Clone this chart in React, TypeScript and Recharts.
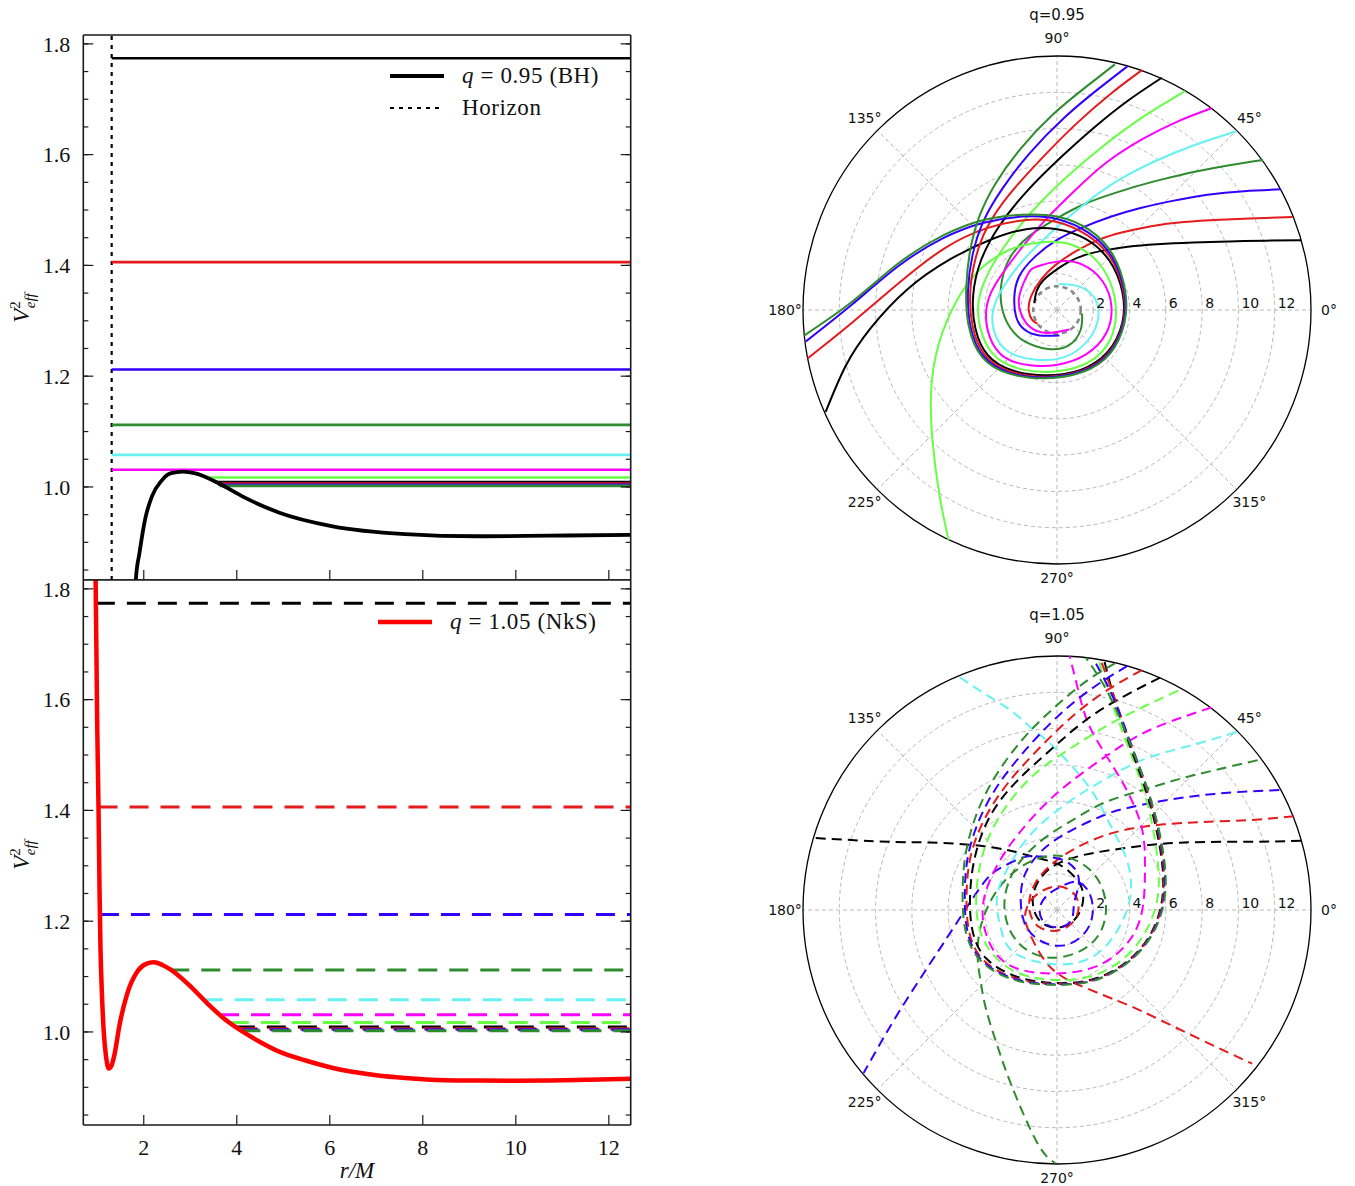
import React from 'react';
import {
  LineChart, Line, XAxis, YAxis, ReferenceLine, Legend,
  RadarChart, PolarGrid, PolarAngleAxis,
} from 'recharts';

const SERIF = '"Liberation Serif", "DejaVu Serif", serif';
const SANS = '"DejaVu Sans", sans-serif';

// squared energies of the test particles, same set for both spacetimes
const levels = [1.774, 1.406, 1.212, 1.112, 1.058, 1.031, 1.017, 1.009, 1.006, 1.004, 1.002];
const levelColors = ['#000000', '#e41a1c', '#3300ff', '#2e8b2e', '#66f2f2', '#ff00ff', '#66ff44', '#000000', '#e41a1c', '#3300ff', '#2e8b2e'];

// turning points where each level line starts
const horizonR = 1.31;
const bhStart = [1.31, 1.31, 1.31, 1.31, 1.31, 1.31, 3.3, 3.54, 3.58, 3.6, 3.63];
const nksStart = [0.97, 1.027, 1.057, 2.57, 3.29, 3.64, 3.85, 3.98, 4.03, 4.06, 4.1];

// effective potential, q = 0.95 (black hole)
const bhPotR = [1.8, 1.83, 1.91, 2.03, 2.18, 2.38, 2.57, 2.84, 3.11, 3.58, 4.12, 4.9, 6.06, 7.62, 9.17, 10.72, 12.47];
const bhPotV = [0.78, 0.833, 0.882, 0.942, 0.984, 1.011, 1.0244, 1.0275, 1.0244, 1.008, 0.983, 0.954, 0.929, 0.915, 0.911, 0.912, 0.9136];

// effective potential, q = 1.05 (naked singularity)
const nksPotR = [0.955, 0.967, 1.0, 1.027, 1.05, 1.07, 1.1, 1.14, 1.19, 1.25, 1.3, 1.37, 1.48, 1.64, 1.87, 2.05, 2.22, 2.4, 2.57, 2.96, 3.35, 3.73, 4.12, 4.5, 4.9, 5.5, 6.07, 7.0, 7.62, 8.5, 9.17, 10.0, 10.72, 11.5, 12.47];
const nksPotV = [1.88, 1.8, 1.55, 1.406, 1.25, 1.15, 1.07, 1.0, 0.955, 0.934, 0.938, 0.959, 1.013, 1.068, 1.11, 1.123, 1.126, 1.121, 1.113, 1.086, 1.053, 1.024, 1.001, 0.982, 0.965, 0.948, 0.935, 0.922, 0.917, 0.913, 0.9123, 0.912, 0.9123, 0.9135, 0.9153];

const X_MIN = 0.7;
const X_MAX = 12.47;
const Y_DOMAIN: [number, number] = [0.832, 1.816];
const xMajor = [2, 4, 6, 8, 10, 12];
const xMinor = Array.from({ length: 23 }, (_, i) => 1 + i * 0.5);
const yMajor = [1.0, 1.2, 1.4, 1.6, 1.8];
const yMinor = Array.from({ length: 20 }, (_, i) => +(0.85 + i * 0.05).toFixed(2));

// orbits in the equatorial plane, (x, y) in units of M
type Pt = [number, number];

const bhBlackIn: Pt[] = [[13.45, 3.85], [11.5, 3.82], [9.5, 3.78], [7.5, 3.72], [5.5, 3.62], [3.9, 3.48], [2.7, 3.3], [1.6, 3.05], [0.6, 2.62], [-0.2, 2.1], [-0.79, 1.6], [-1.12, 1.05], [-1.25, 0.39]];
const bhRedIn: Pt[] = [[13.0, 5.12], [11.0, 5.06], [9.0, 4.98], [7.0, 4.85], [5.2, 4.62], [3.62, 4.28], [2.33, 3.88], [1.05, 3.24], [-0.06, 2.5], [-0.88, 1.67], [-1.43, 0.75], [-1.56, 0.02], [-1.38, -0.53], [-1.07, -0.75]];
const bhBlueIn: Pt[] = [[12.35, 6.65], [10.3, 6.55], [8.3, 6.35], [6.3, 6.0], [4.6, 5.62], [3.0, 5.15], [1.42, 4.55], [-0.06, 3.82], [-1.25, 2.9], [-2.08, 1.86], [-2.35, 0.75], [-2.26, -0.35], [-1.8, -1.08], [-0.97, -1.4], [0.13, -1.4]];
const bhGreenIn: Pt[] = [[11.35, 8.27], [9.5, 7.98], [7.6, 7.62], [5.8, 7.2], [4.3, 6.8], [2.9, 6.35], [1.42, 5.8], [-0.1, 5.0], [-1.5, 4.1], [-2.55, 2.95], [-3.05, 1.55], [-3.05, 0.2], [-2.6, -0.95], [-1.75, -1.75], [-0.5, -2.15], [0.65, -1.95], [1.3, -1.1], [1.38, -0.2]];
const bhCyan: Pt[] = [[9.9, 9.85], [7.67, 9.12], [5.4, 8.2], [3.3, 7.1], [1.4, 5.75], [-0.4, 4.2], [-1.9, 2.7], [-3.0, 1.2], [-3.55, -0.2], [-3.3, -1.6], [-2.4, -2.45], [-1.0, -2.75], [0.4, -2.6], [1.6, -1.8], [2.24, -0.6], [2.1, 0.6], [1.2, 1.3], [0.1, 1.43]];
const bhMagenta: Pt[] = [[8.51, 11.12], [6.67, 10.4], [4.68, 9.4], [2.69, 8.1], [1.0, 6.6], [-0.7, 4.9], [-2.2, 3.1], [-3.4, 1.4], [-3.9, 0.0], [-3.7, -1.5], [-2.9, -2.6], [-1.5, -3.05], [0.1, -3.0], [1.6, -2.45], [2.7, -1.3], [3.0, 0.2], [2.5, 1.6], [1.4, 2.5], [0.13, 2.68], [-1.1, 2.4], [-1.62, 1.95], [-2.08, 0.75], [-1.99, -0.17], [-1.53, -0.9], [-0.61, -1.27], [0.68, -1.08]];
const bhLightGreen: Pt[] = [[7.07, 12.06], [4.68, 10.6], [2.5, 9.0], [0.5, 7.3], [-1.4, 5.4], [-2.9, 3.5], [-3.9, 1.8], [-4.35, 0.2], [-4.1, -1.4], [-3.3, -2.65], [-1.8, -3.3], [0, -3.38], [1.8, -2.85], [2.95, -1.6], [3.25, 0.0], [2.9, 1.6], [2.0, 2.9], [0.8, 3.6], [-0.6, 3.75], [-2.4, 3.4], [-4.08, 2.38], [-5.3, 0.9], [-6.3, -1.2], [-6.9, -3.9], [-6.87, -7.09], [-6.47, -10.25], [-5.98, -12.67]];
const bhBlackOut: Pt[] = [[5.78, 12.8], [4.0, 11.6], [2.1, 10.1], [0.2, 8.4], [-1.7, 6.5], [-3.2, 4.6], [-4.2, 2.7], [-4.62, 0.8], [-4.5, -1.0], [-3.8, -2.5], [-2.4, -3.35], [-0.6, -3.6], [1.3, -3.3], [2.8, -2.3], [3.6, -0.7], [3.6, 1.0], [2.9, 2.7], [1.6, 3.9], [0, 4.45], [-1.7, 4.45], [-3.6, 3.9], [-5.88, 2.8], [-8.27, 1.12], [-10.26, -0.99], [-11.65, -3.09], [-12.75, -5.62]];
const bhRedOut: Pt[] = [[4.68, 13.22], [3.0, 11.95], [1.1, 10.3], [-0.8, 8.4], [-2.6, 6.4], [-3.85, 4.55], [-4.5, 2.8], [-4.78, 1.0], [-4.65, -0.9], [-3.95, -2.5], [-2.5, -3.42], [-0.6, -3.68], [1.35, -3.35], [2.85, -2.35], [3.64, -0.7], [3.66, 1.0], [3.0, 2.8], [1.7, 4.1], [0.0, 4.85], [-1.8, 4.95], [-3.9, 4.5], [-6.2, 3.4], [-8.7, 1.5], [-11.3, -0.7], [-13.75, -2.67]];
const bhBlueOut: Pt[] = [[3.88, 13.43], [2.3, 12.2], [0.4, 10.6], [-1.5, 8.65], [-3.0, 6.7], [-4.05, 4.9], [-4.65, 3.05], [-4.9, 1.15], [-4.78, -0.85], [-4.05, -2.55], [-2.55, -3.48], [-0.6, -3.72], [1.38, -3.38], [2.88, -2.38], [3.67, -0.7], [3.7, 1.05], [3.05, 2.9], [1.75, 4.25], [0.0, 5.02], [-1.9, 5.15], [-4.1, 4.8], [-6.3, 3.95], [-8.7, 2.45], [-11.3, 0.3], [-13.84, -1.73]];
const bhGreenOut: Pt[] = [[3.19, 13.54], [1.6, 12.3], [-0.2, 10.8], [-2.0, 8.9], [-3.4, 6.95], [-4.3, 5.1], [-4.8, 3.2], [-5.0, 1.25], [-4.88, -0.8], [-4.12, -2.6], [-2.6, -3.52], [-0.6, -3.76], [1.4, -3.42], [2.92, -2.4], [3.72, -0.7], [3.75, 1.1], [3.1, 3.0], [1.8, 4.4], [0.0, 5.15], [-1.95, 5.25], [-4.1, 4.95], [-6.3, 4.1], [-8.7, 2.6], [-11.3, 0.45], [-13.94, -1.41]];

const nksBlackIn: Pt[] = [[13.45, 3.82], [10.66, 3.76], [6.78, 3.71], [3.66, 3.4], [1.45, 3.03], [0.02, 2.54], [-0.8, 1.9], [-1.3, 0.9], [-1.2, -0.2], [-0.6, -0.85], [0.2, -0.95], [0.95, -0.55], [1.4, 0.3], [1.35, 1.25], [0.8, 2.0], [0.02, 2.54], [-1.31, 2.94], [-2.78, 3.31], [-4.61, 3.58], [-7.0, 3.72], [-9.26, 3.76], [-13.45, 3.97]];
const nksRedIn: Pt[] = [[13.05, 5.17], [10.66, 4.96], [8.0, 4.85], [5.88, 4.72], [4.2, 4.5], [2.69, 4.13], [1.2, 3.5], [0.0, 2.75], [-0.9, 1.9], [-1.45, 0.9], [-1.5, -0.1], [-1.1, -0.85], [-0.3, -1.15], [0.55, -0.95], [1.1, -0.3], [1.15, 0.5], [0.7, 1.1], [-0.1, 1.3], [-0.9, 1.0], [-1.5, 0.45], [-1.76, -0.3], [-1.58, -1.1], [-0.94, -2.39], [0.1, -3.55], [1.69, -4.34], [3.2, -4.95], [4.68, -5.58], [7.67, -7.02], [10.76, -8.47]];
const nksBlueIn: Pt[] = [[12.25, 6.61], [8.67, 6.4], [5.68, 5.99], [4.0, 5.65], [2.69, 5.27], [0.7, 4.34], [-0.8, 3.3], [-1.75, 2.0], [-2.0, 0.5], [-1.7, -0.9], [-0.8, -1.75], [0.4, -1.95], [1.45, -1.35], [1.95, -0.3], [1.8, 0.9], [1.1, 1.55], [0.25, 1.3], [-0.5, 0.85], [-0.95, 0.1], [-0.7, -0.7], [0.1, -0.95], [0.8, -0.55], [0.95, 0.4], [1.2, 1.4], [1.0, 2.25], [0.2, 2.8], [-0.9, 2.95], [-1.86, 2.9], [-2.96, 2.4], [-3.7, 1.9], [-4.4, 1.0], [-5.2, -0.2], [-6.5, -2.2], [-8.7, -5.6], [-10.66, -8.99]];
const nksGreenIn: Pt[] = [[11.06, 8.26], [8.67, 7.7], [6.67, 7.2], [4.68, 6.6], [2.69, 5.95], [1.1, 5.1], [-0.5, 4.1], [-1.8, 2.95], [-2.6, 1.7], [-2.9, 0.2], [-2.5, -1.3], [-1.5, -2.3], [-0.1, -2.63], [1.4, -2.2], [2.4, -1.2], [2.7, 0.2], [2.3, 1.6], [1.3, 2.6], [-0.1, 3.0], [-1.5, 2.65], [-2.7, 1.8], [-3.6, 0.6], [-4.2, -0.9], [-4.38, -2.48], [-4.2, -4.0], [-3.88, -5.58], [-3.25, -7.6], [-2.49, -9.71], [-1.1, -12.81], [-0.1, -13.95]];
const nksCyan: Pt[] = [[9.9, 9.81], [8.2, 9.3], [6.67, 8.88], [4.68, 8.26], [2.69, 7.23], [0.7, 5.99], [-1.29, 4.34], [-2.49, 2.69], [-3.29, 0.83], [-3.09, -1.03], [-2.29, -2.4], [0, -3.0], [2.09, -2.5], [3.4, -1.0], [4.05, 0.8], [3.9, 2.6], [3.3, 4.0], [2.69, 5.17], [1.89, 6.61], [0.7, 8.06], [-0.5, 9.3], [-1.29, 9.92], [-2.49, 10.95], [-4.08, 11.98], [-5.48, 12.91]];
const nksMagenta: Pt[] = [[8.51, 11.16], [6.67, 10.54], [4.68, 9.71], [2.69, 8.47], [0.7, 7.02], [-0.9, 5.58], [-2.49, 3.72], [-3.6, 1.86], [-4.1, 0], [-3.7, -1.86], [-2.4, -3.15], [0, -3.5], [2.29, -3.05], [3.9, -1.8], [4.7, 0.0], [4.85, 2.5], [4.6, 4.8], [3.4, 7.4], [1.9, 9.9], [1.2, 12.0], [0.7, 13.98]];
const nksLightGreen: Pt[] = [[6.67, 12.09], [4.68, 11.16], [2.69, 10.12], [0.7, 8.88], [-1.29, 7.44], [-2.89, 5.58], [-3.88, 3.72], [-4.38, 1.65], [-4.4, -0.41], [-3.8, -2.07], [-2.29, -3.4], [0, -3.86], [2.29, -3.51], [4.28, -2.07], [5.45, 0.21], [5.55, 2.69], [5.0, 5.8], [4.0, 8.8], [3.0, 11.5], [2.29, 13.8]];
const nksBlackOut: Pt[] = [[5.68, 12.81], [3.69, 11.78], [1.69, 10.54], [-0.3, 8.88], [-2.29, 7.02], [-3.69, 5.17], [-4.48, 3.1], [-4.78, 1.03], [-4.68, -1.03], [-3.88, -2.69], [-2.09, -3.72], [0, -4.03], [2.29, -3.72], [4.48, -2.27], [5.68, 0], [5.78, 2.69], [5.08, 5.99], [4.08, 8.88], [3.19, 11.57], [2.6, 13.76]];
const nksRedOut: Pt[] = [[4.68, 13.22], [2.9, 12.2], [1.0, 10.8], [-0.9, 9.0], [-2.7, 7.0], [-4.0, 5.0], [-4.75, 3.0], [-4.98, 1.0], [-4.86, -1.1], [-4.02, -2.8], [-2.15, -3.8], [0, -4.08], [2.3, -3.76], [4.5, -2.3], [5.72, 0], [5.84, 2.7], [5.15, 6.0], [4.15, 8.9], [3.2, 11.6], [2.4, 13.8]];
const nksBlueOut: Pt[] = [[3.88, 13.45], [2.2, 12.4], [0.4, 11.0], [-1.4, 9.2], [-3.1, 7.1], [-4.25, 5.05], [-4.9, 3.0], [-5.08, 1.0], [-4.95, -1.1], [-4.1, -2.82], [-2.2, -3.84], [0, -4.1], [2.3, -3.78], [4.52, -2.3], [5.76, 0], [5.88, 2.7], [5.18, 6.0], [4.15, 8.95], [3.1, 11.7], [2.0, 13.85]];
const nksGreenOut: Pt[] = [[3.19, 13.6], [1.6, 12.6], [-0.1, 11.2], [-1.9, 9.4], [-3.5, 7.2], [-4.5, 5.1], [-5.05, 3.0], [-5.2, 1.0], [-5.05, -1.1], [-4.15, -2.85], [-2.25, -3.88], [0, -4.12], [2.3, -3.8], [4.55, -2.3], [5.8, 0], [5.92, 2.7], [5.2, 6.0], [4.1, 9.0], [2.9, 11.8], [1.6, 13.9]];

const bhOrbits = [bhBlackIn, bhRedIn, bhBlueIn, bhGreenIn, bhCyan, bhMagenta, bhLightGreen, bhBlackOut, bhRedOut, bhBlueOut, bhGreenOut];
const nksOrbits = [nksBlackIn, nksRedIn, nksBlueIn, nksGreenIn, nksCyan, nksMagenta, nksLightGreen, nksBlackOut, nksRedOut, nksBlueOut, nksGreenOut];

const angleLabels = ['0°', '45°', '90°', '135°', '180°', '225°', '270°', '315°'];
const gridAngles = [0, 45, 90, 135, 180, 225, 270, 315];
const ringTicks = [2, 4, 6, 8, 10, 12];
const R_MAX = 14;
const OUTER_PX = 254;
const THIN = 0.01; // axes collapse onto the frame but still render
const MAJOR = 10;
const MINOR = 5;

const AX = '#1a1a1a';
const noLabel = () => <g />;

// labels hang off the inward (mirrored) major ticks, so step back over the tick length
const xLabelTick = (p: any) => (
  <text x={p.x} y={p.y + MAJOR + 30} textAnchor="middle" fontFamily={SERIF} fontSize={22} fill="#111">{p.payload.value}</text>
);
const yLabelTick = (p: any) => (
  <text x={p.x - MAJOR - 13} y={p.y} dy="0.35em" textAnchor="end" fontFamily={SERIF} fontSize={22} fill="#111">{Number(p.payload.value).toFixed(1)}</text>
);

function YTitle({ cy }: { cy: number }) {
  return (
    <text x={29} y={cy} transform={`rotate(-90, 29, ${cy})`} textAnchor="middle" fontFamily={SERIF} fill="#111">
      <tspan fontSize={23} fontStyle="italic">V</tspan>
      <tspan fontSize={15} dy={-9}>2</tspan>
      <tspan fontSize={15} fontStyle="italic" dx={-7} dy={15}>eff</tspan>
    </text>
  );
}

function frameAxes(showXLabels: boolean, yTitleY: number, xTitleY: number) {
  const common = { type: 'number' as const, domain: [X_MIN, X_MAX] as [number, number], allowDataOverflow: true, height: THIN, interval: 0 as const, tickMargin: 0 };
  const ycommon = { type: 'number' as const, domain: Y_DOMAIN, allowDataOverflow: true, width: THIN, interval: 0 as const, tickMargin: 0 };
  const line = { stroke: AX, strokeWidth: 1.6 };
  const tl = { stroke: AX, strokeWidth: 1.2 };
  return [
    <XAxis key="bM" xAxisId="bM" dataKey="r" orientation="bottom" {...common} ticks={xMajor} mirror tickSize={MAJOR}
      tick={showXLabels ? xLabelTick : noLabel} axisLine={line} tickLine={tl}
      label={showXLabels ? () => (
        <text x={357} y={xTitleY} textAnchor="middle" fontFamily={SERIF} fontSize={23} fontStyle="italic" fill="#111">r/M</text>
      ) : undefined} />,
    <XAxis key="bm" xAxisId="bm" orientation="bottom" {...common} ticks={xMinor} mirror tickSize={MINOR} tick={noLabel} axisLine={false} tickLine={tl} />,
    <XAxis key="tM" xAxisId="tM" orientation="top" {...common} ticks={xMajor} mirror tickSize={MAJOR} tick={noLabel} axisLine={line} tickLine={tl} />,
    <XAxis key="tm" xAxisId="tm" orientation="top" {...common} ticks={xMinor} mirror tickSize={MINOR} tick={noLabel} axisLine={false} tickLine={tl} />,
    <YAxis key="lM" yAxisId="lM" orientation="left" {...ycommon} ticks={yMajor} mirror tickSize={MAJOR} tick={yLabelTick}
      axisLine={line} tickLine={tl} label={() => <YTitle cy={yTitleY} />} />,
    <YAxis key="lm" yAxisId="lm" orientation="left" {...ycommon} ticks={yMinor} mirror tickSize={MINOR} tick={noLabel} axisLine={false} tickLine={tl} />,
    <YAxis key="rM" yAxisId="rM" orientation="right" {...ycommon} ticks={yMajor} mirror tickSize={MAJOR} tick={noLabel} axisLine={line} tickLine={tl} />,
    <YAxis key="rm" yAxisId="rm" orientation="right" {...ycommon} ticks={yMinor} mirror tickSize={MINOR} tick={noLabel} axisLine={false} tickLine={tl} />,
  ];
}

function LegendBox({ rows }: { rows: { dash?: string; color: string; width: number; q?: string; text: string }[] }) {
  return (
    <div style={{ fontFamily: SERIF, fontSize: 23, color: '#111', letterSpacing: 0.6 }}>
      {rows.map((row, i) => (
        <div key={i} style={{ display: 'flex', alignItems: 'center', height: 32 }}>
          <svg width={74} height={12} style={{ flex: 'none' }}>
            <line x1={2} x2={56} y1={6} y2={6} stroke={row.color} strokeWidth={row.width} strokeDasharray={row.dash} />
          </svg>
          <span style={{ whiteSpace: 'nowrap' }}>
            {row.q ? <><i>q</i> = {row.q} </> : null}{row.text}
          </span>
        </div>
      ))}
    </div>
  );
}

function PotentialPanel(props: {
  top: number; height: number; margin: { top: number; right: number; bottom: number; left: number };
  potR: number[]; potV: number[]; potColor: string; potWidth: number; starts: number[]; dashed: boolean;
  showXLabels: boolean; yTitleY: number; xTitleY: number; legend: React.ReactNode; legendPos: { left: number; top: number }; horizon?: number;
}) {
  const { top, height, margin, potR, potV, potColor, potWidth, starts, dashed, showXLabels, yTitleY, xTitleY, legend, legendPos, horizon } = props;
  const potData = potR.map((r, i) => ({ r, v: potV[i] }));
  return (
    <div style={{ position: 'absolute', left: 0, top }}>
      <LineChart width={660} height={height} margin={margin}>
        {frameAxes(showXLabels, yTitleY, xTitleY)}
        {horizon !== undefined && (
          <ReferenceLine xAxisId="bM" yAxisId="lM" x={horizon} stroke="#000" strokeWidth={2.2} strokeDasharray="4 5" ifOverflow="hidden" />
        )}
        {levels.map((e, i) => (
          <Line key={i} xAxisId="bM" yAxisId="lM" type="linear" dataKey="v"
            data={[{ r: starts[i], v: e }, { r: X_MAX, v: e }]}
            stroke={levelColors[i]} strokeWidth={dashed ? 3 : 2.6} strokeDasharray={dashed ? '19 12' : undefined}
            dot={false} activeDot={false} isAnimationActive={false} />
        ))}
        <Line xAxisId="bM" yAxisId="lM" type="monotone" dataKey="v" data={potData} stroke={potColor} strokeWidth={potWidth}
          dot={false} activeDot={false} isAnimationActive={false} />
        <Legend verticalAlign="middle" align="center" layout="horizontal"
          wrapperStyle={{ left: legendPos.left, top: legendPos.top, width: 280 }} content={() => legend} />
      </LineChart>
    </div>
  );
}

const angleTick = (p: any) => {
  const deg = gridAngles[p.index];
  const a = (deg * Math.PI) / 180;
  const rr = OUTER_PX + (deg === 270 ? 14 : 18);
  return (
    <text x={300 + rr * Math.cos(a)} y={310 - rr * Math.sin(a)} dy="0.36em" textAnchor="middle"
      fontFamily={SANS} fontSize={14} fill="#111">{angleLabels[p.index]}</text>
  );
};

const ringTick = (p: any) => (
  <text x={p.x + 3} y={308} textAnchor="start" fontFamily={SANS} fontSize={14} fill="#111">{p.payload.value}</text>
);

function PolarPanel({ top, title, orbits, dashed, horizon }: { top: number; title: string; orbits: Pt[][]; dashed: boolean; horizon?: number }) {
  const angleRows = angleLabels.map((label) => ({ label }));
  const ringPx = ringTicks.map((r) => (r * OUTER_PX) / R_MAX);
  return (
    <div style={{ position: 'absolute', left: 757, top, width: 600, height: 600 }}>
      <div style={{ position: 'absolute', left: 0, top: 6, width: 600, textAlign: 'center', fontFamily: SANS, fontSize: 15, color: '#111' }}>{title}</div>
      <div style={{ position: 'absolute', left: 0, top: 0 }}>
        <RadarChart width={600} height={600} cx={300} cy={310} outerRadius={OUTER_PX} startAngle={0} endAngle={360}
          data={angleRows} margin={{ top: 0, right: 0, bottom: 0, left: 0 }}>
          <PolarGrid gridType="circle" polarAngles={gridAngles} polarRadius={ringPx} stroke="#b8b8b8" strokeDasharray="4 3" />
          {horizon !== undefined && (
            <PolarGrid gridType="circle" radialLines={false} polarRadius={[(horizon * OUTER_PX) / R_MAX]}
              stroke="#888" strokeWidth={2.6} strokeDasharray="5 4" />
          )}
          <PolarAngleAxis dataKey="label" axisLineType="circle" axisLine={{ stroke: '#000', strokeWidth: 1.3 }} tickLine={false} tick={angleTick} />
        </RadarChart>
      </div>
      <div style={{ position: 'absolute', left: 0, top: 0 }}>
        <LineChart width={600} height={600} margin={{ top: 56, right: 46, bottom: 36, left: 46 }}>
          <XAxis type="number" dataKey="x" domain={[-R_MAX, R_MAX]} allowDataOverflow height={THIN} interval={0}
            ticks={ringTicks} axisLine={false} tickLine={false} tick={ringTick} />
          <YAxis type="number" domain={[-R_MAX, R_MAX]} allowDataOverflow hide />
          {orbits.map((pts, i) => (
            <Line key={i} type="natural" dataKey="y" data={pts.map(([x, y]) => ({ x, y }))}
              stroke={levelColors[i]} strokeWidth={2} strokeDasharray={dashed ? '10 6' : undefined}
              dot={false} activeDot={false} isAnimationActive={false} />
          ))}
        </LineChart>
      </div>
    </div>
  );
}

export default function App() {
  return (
    <div style={{ position: 'absolute', left: 0, top: 0, width: 1355, height: 1186, background: '#fff', overflow: 'hidden' }}>
      <PotentialPanel
        top={0} height={580} margin={{ top: 35, right: 29.3, bottom: 0, left: 83.3 }}
        potR={bhPotR} potV={bhPotV} potColor="#000" potWidth={3.8} starts={bhStart} dashed={false}
        showXLabels={false} yTitleY={308} xTitleY={0} horizon={horizonR}
        legendPos={{ left: 388, top: 60 }}
        legend={<LegendBox rows={[
          { color: '#000', width: 4, q: '0.95', text: '(BH)' },
          { color: '#000', width: 2.2, dash: '4 5', text: 'Horizon' },
        ]} />}
      />
      <PotentialPanel
        top={560} height={626} margin={{ top: 20, right: 29.3, bottom: 61, left: 83.3 }}
        potR={nksPotR} potV={nksPotV} potColor="#ff0000" potWidth={4.5} starts={nksStart} dashed
        showXLabels yTitleY={295} xTitleY={618}
        legendPos={{ left: 376, top: 46 }}
        legend={<LegendBox rows={[{ color: '#ff0000', width: 4.5, q: '1.05', text: '(NkS)' }]} />}
      />
      <PolarPanel top={0} title="q=0.95" orbits={bhOrbits} dashed={false} horizon={horizonR} />
      <PolarPanel top={600} title="q=1.05" orbits={nksOrbits} dashed />
    </div>
  );
}
